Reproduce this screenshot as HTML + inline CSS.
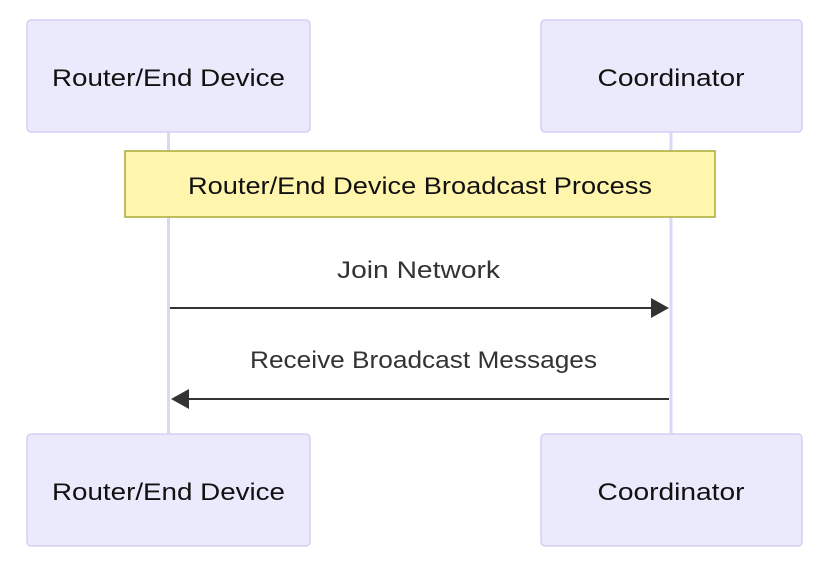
<!DOCTYPE html>
<html><head><meta charset="utf-8"><style>html,body{margin:0;padding:0;background:#fff}svg{display:block}</style></head>
<body>
<svg width="816" height="563" viewBox="0 0 816 563" xmlns="http://www.w3.org/2000/svg" font-family="'Liberation Sans', sans-serif">
<rect width="816" height="563" fill="#fff"/>
<line x1="168.5" y1="132" x2="168.5" y2="434" stroke="#ddd6f7" stroke-width="3"/>
<line x1="671" y1="132" x2="671" y2="434" stroke="#ddd6f7" stroke-width="3"/>
<g fill="#eaeafc" stroke="#d6cff5" stroke-width="1.5">
<rect x="27" y="20" width="283" height="112" rx="4"/>
<rect x="541" y="20" width="261" height="112" rx="4"/>
<rect x="27" y="434" width="283" height="112" rx="4"/>
<rect x="541" y="434" width="261" height="112" rx="4"/>
</g>
<rect x="125" y="151" width="590" height="66" fill="#fff5ad" stroke="#aaaa33" stroke-width="1.5"/>
<g font-size="24" fill="#111" text-anchor="middle">
<text x="168.5" y="86" textLength="233" lengthAdjust="spacingAndGlyphs">Router/End Device</text>
<text x="671" y="86" textLength="147" lengthAdjust="spacingAndGlyphs">Coordinator</text>
<text x="168.5" y="500" textLength="233" lengthAdjust="spacingAndGlyphs">Router/End Device</text>
<text x="671" y="500" textLength="147" lengthAdjust="spacingAndGlyphs">Coordinator</text>
<text x="420" y="194" textLength="464" lengthAdjust="spacingAndGlyphs">Router/End Device Broadcast Process</text>
</g>
<g font-size="24" fill="#333" text-anchor="middle">
<text x="418.5" y="278" textLength="163" lengthAdjust="spacingAndGlyphs">Join Network</text>
<text x="423.5" y="368" textLength="347" lengthAdjust="spacingAndGlyphs">Receive Broadcast Messages</text>
</g>
<line x1="170" y1="308" x2="655" y2="308" stroke="#333" stroke-width="2"/>
<polygon points="651,298 669,308 651,318" fill="#333"/>
<line x1="669" y1="399" x2="185" y2="399" stroke="#333" stroke-width="2"/>
<polygon points="189,389 171,399 189,409" fill="#333"/>
</svg>
</body></html>
